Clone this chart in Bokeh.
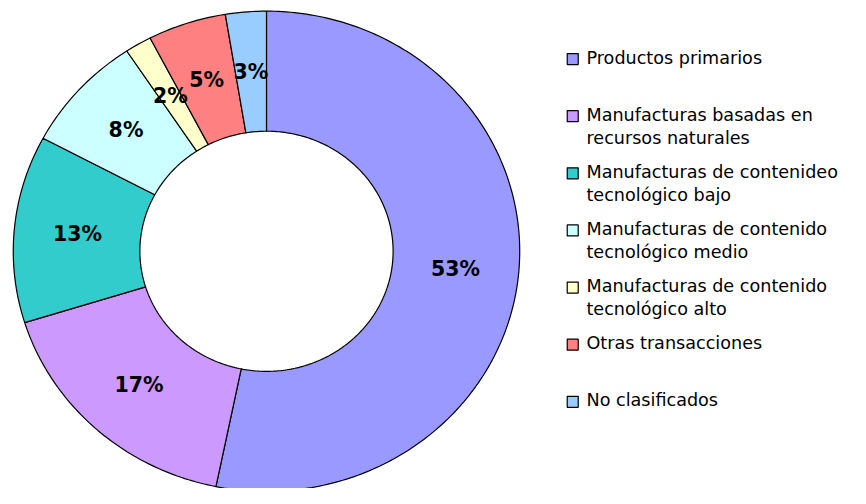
import numpy as np
from bokeh.plotting import figure
from bokeh.models import Range1d, ColumnDataSource
from bokeh.core.properties import value
from bokeh.embed import file_html
from bokeh.resources import INLINE

# ---- data ----
categories = [
    "Productos primarios",
    "Manufacturas basadas en\nrecursos naturales",
    "Manufacturas de contenideo\ntecnológico bajo",
    "Manufacturas de contenido\ntecnológico medio",
    "Manufacturas de contenido\ntecnológico alto",
    "Otras transacciones",
    "No clasificados",
]
shares = [53.2, 17.0, 12.6, 7.9, 1.7, 5.0, 2.6]
colors = ["#9999FF", "#CC99FF", "#33CCCC", "#CCFFFF", "#FFFFCC", "#FF8080", "#99CCFF"]
pct_labels = [f"{round(v)}%" for v in shares]

# ---- layout (data units = reference pixels) ----
W, H = 850, 488
RW, RH = 866, 504
cx, cy = 271, 259
rx_out, ry_out = 258, 248
rx_in, ry_in = 129, 124

p = figure(width=W, height=H, x_range=Range1d(0, RW), y_range=Range1d(RH, 0),
           output_backend="svg", toolbar_location=None, min_border=0,
           x_axis_location=None, y_axis_location=None,
           outline_line_color=None, background_fill_color="white")
p.grid.visible = False

vals = np.array(shares, dtype=float)
frac = vals / vals.sum()
ends = np.cumsum(frac) * 2 * np.pi
starts = ends - frac * 2 * np.pi

xs, ys = [], []
lx, ly = [], []
for a0, a1 in zip(starts, ends):
    n = max(8, int((a1 - a0) / (2 * np.pi) * 400))
    t = np.linspace(a0, a1, n)
    ox = cx + rx_out * np.sin(t)
    oy = cy - ry_out * np.cos(t)
    ix = cx + rx_in * np.sin(t[::-1])
    iy = cy - ry_in * np.cos(t[::-1])
    xs.append(list(np.concatenate([ox, ix])))
    ys.append(list(np.concatenate([oy, iy])))
    m = (a0 + a1) / 2
    lx.append(cx + (rx_out + rx_in) / 2 * np.sin(m))
    ly.append(cy - (ry_out + ry_in) / 2 * np.cos(m))

src = ColumnDataSource(dict(xs=xs, ys=ys, color=colors))
p.patches("xs", "ys", source=src, fill_color="color", line_color="black", line_width=1.2)

p.text(x=lx, y=ly, text=pct_labels, text_font=value("DejaVu Sans"), text_font_style="bold",
       text_font_size="20.5px", text_align="center", text_baseline="middle", text_color="black")

# ---- legend ----
leg_x_sq = 583
leg_x_txt = 597
leg_top = 59
pitch = 59
line_h = 24
sq_x, sq_y, tx, ty, tt = [], [], [], [], []
for i, cat in enumerate(categories):
    y0 = leg_top + i * pitch
    sq_x.append(leg_x_sq)
    sq_y.append(y0 + 1.5)
    for j, line in enumerate(cat.split("\n")):
        tx.append(leg_x_txt)
        ty.append(y0 + j * line_h)
        tt.append(line)

p.scatter(x=sq_x, y=sq_y, marker="square", size=11, fill_color=colors,
          line_color="black", line_width=1.2)
p.text(x=tx, y=ty, text=tt, text_font=value("DejaVu Sans"), text_font_size="17.6px",
       text_align="left", text_baseline="middle", text_color="black")

open("out.html", "w").write(file_html(p, INLINE))
